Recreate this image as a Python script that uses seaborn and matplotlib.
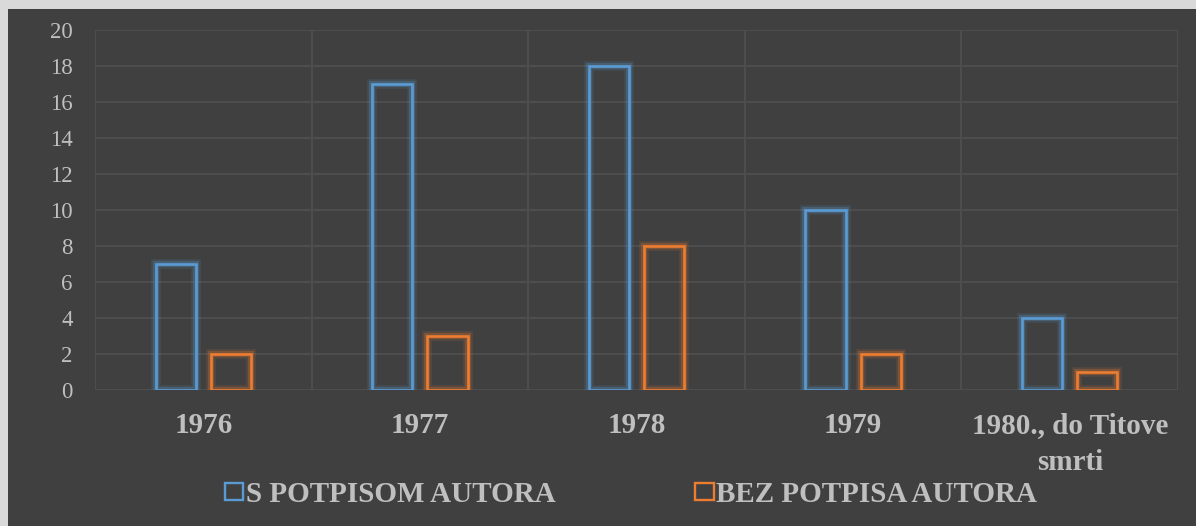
import matplotlib.pyplot as plt
import seaborn as sns
import pandas as pd
import matplotlib.patheffects as pe
from matplotlib.patches import Patch, Rectangle

# Chart data
categories = ['1976', '1977', '1978', '1979', '1980., do Titove\nsmrti']
series_names = ['S POTPISOM AUTORA', 'BEZ POTPISA AUTORA']
s_potpisom = [7, 17, 18, 10, 4]
bez_potpisa = [2, 3, 8, 2, 1]
y_ticks = list(range(0, 21, 2))

BG = '#404040'
TEXT = '#bfbfbf'
GRID = '#4f4f4f'
COLORS = ['#5b9bd5', '#ed7d31']

df = pd.DataFrame({
    'kategorija': categories * 2,
    'vrijednost': s_potpisom + bez_potpisa,
    'serija': [series_names[0]] * len(categories) + [series_names[1]] * len(categories),
})

sns.set_style('dark')
plt.rcParams['font.family'] = ['Liberation Serif', 'DejaVu Serif']

fig = plt.figure(figsize=(11.96, 5.26), dpi=100)
fig.patch.set_facecolor(BG)
# light frame on the left and top edges
fig.patches.append(Rectangle((0, 0), 8 / 1196, 1, transform=fig.transFigure,
                             facecolor='#d9d9d9', edgecolor='none', zorder=0))
fig.patches.append(Rectangle((0, 1 - 9 / 526), 1, 9 / 526, transform=fig.transFigure,
                             facecolor='#d9d9d9', edgecolor='none', zorder=0))

ax = fig.add_axes([95 / 1196, 1 - 390 / 526, (1178 - 95) / 1196, (390 - 30) / 526])
ax.set_facecolor(BG)

sns.barplot(data=df, x='kategorija', y='vrijednost', hue='serija',
            order=categories, hue_order=series_names, palette=COLORS,
            fill=False, width=0.51, gap=0.27, linewidth=1.9,
            errorbar=None, legend=False, ax=ax)

# soft glow around the bar outlines
for bar in ax.patches:
    col = bar.get_edgecolor()
    bar.set_path_effects([
        pe.Stroke(linewidth=7, foreground=col, alpha=0.12),
        pe.Stroke(linewidth=4.5, foreground=col, alpha=0.25),
        pe.Normal(),
    ])
    bar.set_zorder(3)

ax.set_xlim(-0.5, len(categories) - 0.5)
ax.set_ylim(0, 20)
ax.set_yticks(y_ticks)
ax.set_xticks([i - 0.5 for i in range(len(categories) + 1)], minor=True)

ax.grid(True, axis='y', which='major', color=GRID, linewidth=1.3)
ax.grid(True, axis='x', which='minor', color=GRID, linewidth=1.3)
ax.grid(False, axis='x', which='major')
ax.set_axisbelow(True)
for s in ax.spines.values():
    s.set_visible(False)

ax.tick_params(axis='y', which='both', length=0, pad=16, labelsize=16.5, labelcolor=TEXT)
ax.tick_params(axis='x', which='both', length=0, pad=16, labelsize=21, labelcolor=TEXT)
for lab in ax.get_xticklabels():
    lab.set_fontweight('bold')
    lab.set_linespacing(1.45)
ax.set_xlabel('')
ax.set_ylabel('')

handles = [Patch(facecolor='none', edgecolor=c, linewidth=1.7, label=n)
           for c, n in zip(COLORS, series_names)]
leg = ax.legend(handles=handles, loc='center', bbox_to_anchor=(0.495, -0.29), ncol=2,
                frameon=False, handlelength=0.62, handleheight=0.5, handletextpad=0.1,
                columnspacing=4.8, prop={'size': 21, 'weight': 'bold'})
for t in leg.get_texts():
    t.set_color(TEXT)

fig.savefig('out.png', dpi=100, facecolor=fig.get_facecolor())
